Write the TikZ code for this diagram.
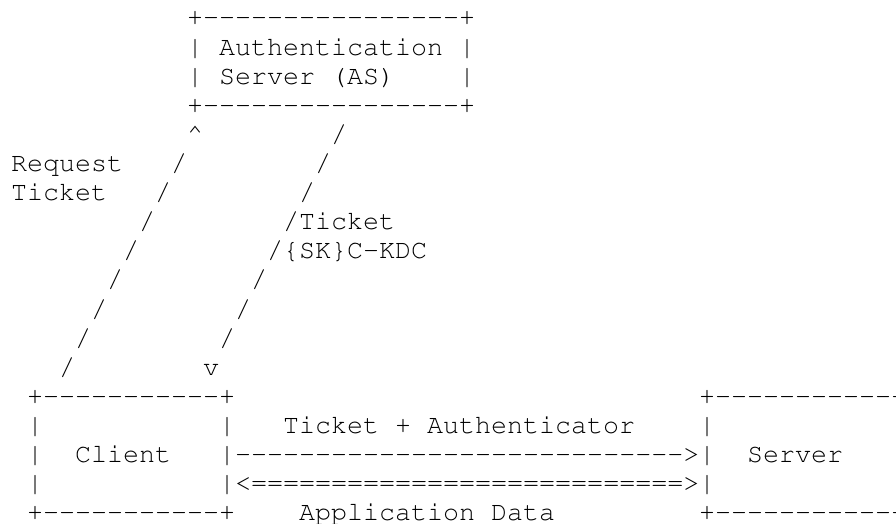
\documentclass[tikz,border=0pt]{standalone}
\usepackage{fontspec}
% Courier-style typewriter face for the character grid
\newcommand\courierface{\fontencoding{T1}\fontfamily{pcr}\fontseries{m}\fontshape{n}\fontsize{26.67}{29}\selectfont}
% a run of n hyphens, kept apart so the font does not join them into dashes
\ExplSyntaxOn
\newcommand\asciidashes[1]{\prg_replicate:nn{#1}{-\kern0pt}}
\ExplSyntaxOff
\tikzset{
  ascii/.style={font=\courierface,
    inner sep=0pt, anchor=base west, text=black}
}
% place a run of characters on the character grid: name, column, row, text
\newcommand\gridtext[4]{\node[ascii] (#1) at ({11+16*#2}, {-26-29.1*#3}) {#4};}
\begin{document}
\begin{tikzpicture}[x=1pt,y=1pt]
  \fill[white] (0,0) rectangle (896,-524);
  \useasboundingbox (0,0) rectangle (896,-524);

  % Authentication Server box
  \gridtext{asTop}{11}{0}{+\asciidashes{16}+}
  \gridtext{asL1}{11}{1}{|}
  \gridtext{asName1}{13}{1}{Authentication}
  \gridtext{asR1}{28}{1}{|}
  \gridtext{asL2}{11}{2}{|}
  \gridtext{asName2}{13}{2}{Server (AS)}
  \gridtext{asR2}{28}{2}{|}
  \gridtext{asBot}{11}{3}{+\asciidashes{16}+}

  % request path (client -> AS) and reply path (AS -> client)
  \gridtext{reqHead}{11}{4}{\textasciicircum}
  \gridtext{rep4}{20}{4}{/}
  \gridtext{reqLabel1}{0}{5}{Request}
  \gridtext{req5}{10}{5}{/}
  \gridtext{rep5}{19}{5}{/}
  \gridtext{reqLabel2}{0}{6}{Ticket}
  \gridtext{req6}{9}{6}{/}
  \gridtext{rep6}{18}{6}{/}
  \gridtext{req7}{8}{7}{/}
  \gridtext{rep7}{17}{7}{/Ticket}
  \gridtext{req8}{7}{8}{/}
  \gridtext{rep8}{16}{8}{/\{SK\}C-KDC}
  \gridtext{req9}{6}{9}{/}
  \gridtext{rep9}{15}{9}{/}
  \gridtext{req10}{5}{10}{/}
  \gridtext{rep10}{14}{10}{/}
  \gridtext{req11}{4}{11}{/}
  \gridtext{rep11}{13}{11}{/}
  \gridtext{req12}{3}{12}{/}
  \gridtext{repHead}{12}{12}{v}

  % Client box
  \gridtext{clTop}{1}{13}{+\asciidashes{11}+}
  \gridtext{clL14}{1}{14}{|}
  \gridtext{clR14}{13}{14}{|}
  \gridtext{clL15}{1}{15}{|}
  \gridtext{clName}{4}{15}{Client}
  \gridtext{clR15}{13}{15}{|}
  \gridtext{clL16}{1}{16}{|}
  \gridtext{clR16}{13}{16}{|}
  \gridtext{clBot}{1}{17}{+\asciidashes{11}+}

  % Server box (runs off the right edge)
  \gridtext{svTop}{43}{13}{+\asciidashes{12}}
  \gridtext{svL14}{43}{14}{|}
  \gridtext{svL15}{43}{15}{|}
  \gridtext{svName}{46}{15}{Server}
  \gridtext{svL16}{43}{16}{|}
  \gridtext{svBot}{43}{17}{+\asciidashes{12}}

  % client <-> server exchange
  \gridtext{authLabel}{17}{14}{Ticket + Authenticator}
  \gridtext{authArrow}{14}{15}{\asciidashes{28}>}
  \gridtext{dataArrow}{14}{16}{<===========================>}
  \gridtext{dataLabel}{18}{17}{Application Data}
\end{tikzpicture}
\end{document}
